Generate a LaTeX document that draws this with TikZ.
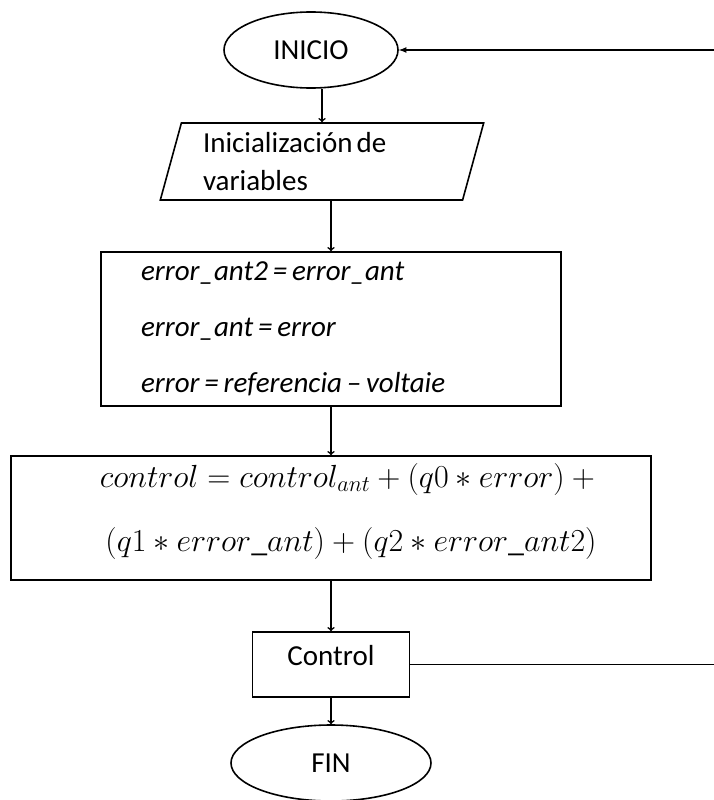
\documentclass[tikz,border=0pt]{standalone}
\usepackage{fix-cm}
\usepackage[no-math]{fontspec}
\setmainfont{Carlito}
\usetikzlibrary{shapes.geometric}

\begin{document}
\begin{tikzpicture}[x=1pt,y=-1pt,line width=1.6pt,
    every node/.style={font=\fontsize{29}{35}\selectfont,inner sep=0pt},
    terminal/.style={draw,ellipse,minimum width=174pt,minimum height=76pt},
    datos/.style={draw,trapezium,trapezium left angle=73,trapezium right angle=107,
        trapezium stretches=true,minimum width=324pt,minimum height=77pt,
        text width=238pt,align=left},
    proceso/.style={draw,rectangle}]
        \useasboundingbox(0,0)rectangle(714,800);
        \node(1)at(311,50)[terminal]{INICIO};
        \node(2)at(322,161.5)[datos]{Inicialización\hspace{4pt}de\\[3pt]variables};
        \node(3)at(331,329)[proceso,minimum width=460pt,minimum height=154pt,
            text width=380pt,align=left]{\itshape error\_ant2\,=\,error\_ant\\[21pt]
            error\_ant\,=\,error\\[21pt]
            error\,=\,referencia\,–\,voltaie};
        \node(4)at(331,518)[proceso,minimum width=640pt,minimum height=124pt]{};
        \node(4t)at(351,511)[align=center,font=\fontsize{32}{38}\selectfont]{$control = control_{ant} + (q0 * error) +{}$\\[26pt]
            $(q1 * error\_ant) + (q2 * error\_ant2)$};
        \node(5)at(331,664.5)[proceso,minimum width=157pt,minimum height=65pt,
            text depth=19pt]{Control};
        \node(6)at(331,763)[terminal,minimum width=200pt]{FIN};
        \coordinate(7)at(714,50);
        \coordinate(8)at(714,664.5);
        \draw[-latex](7)--(1);
        \draw(5)--(8);
        \draw[->](1.south-|2.north)--(2.north);
        \draw[->](2.south-|3.north)--(3.north);
        \draw[->](3)--(4);
        \draw[->](4)--(5);
        \draw[->](5)--(6);
    \end{tikzpicture}
\end{document}
